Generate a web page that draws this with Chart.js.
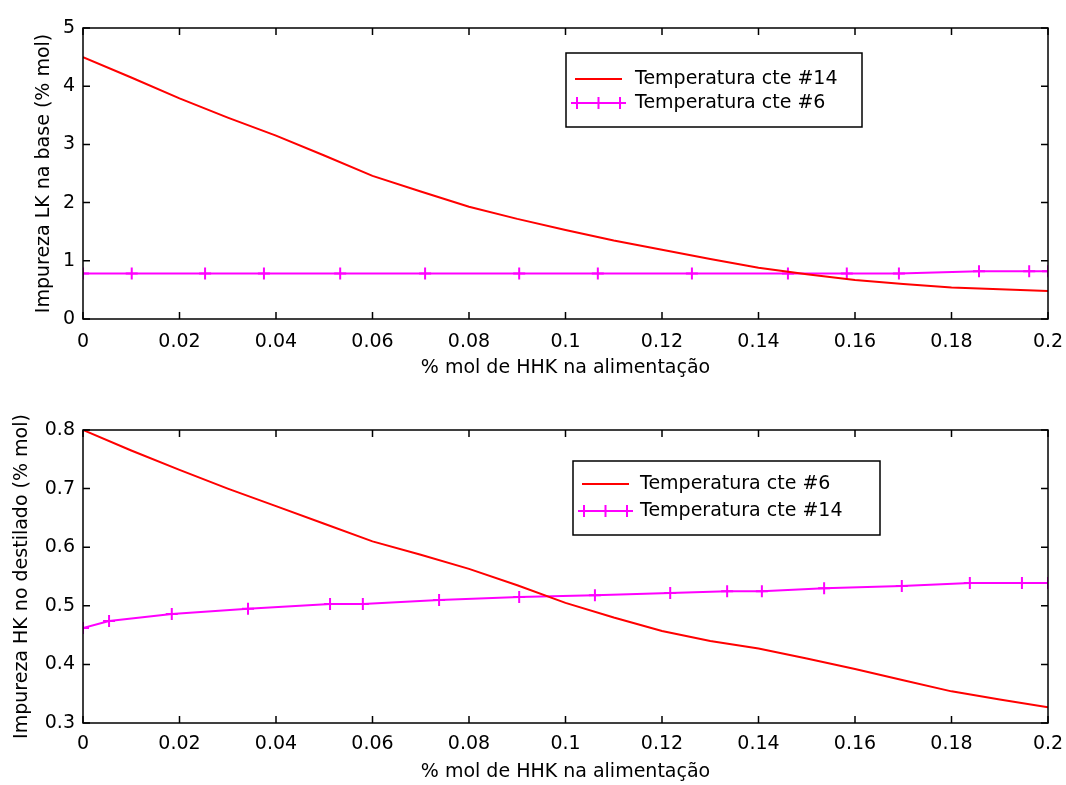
<!DOCTYPE html>
<html>
<head>
<meta charset="utf-8">
<script src="https://cdn.jsdelivr.net/npm/chart.js@4.4.0/dist/chart.umd.min.js"></script>
<style>
  body { margin: 0; background: #fff; width: 1066px; height: 785px; overflow: hidden; }
  canvas { position: absolute; left: 0; }
  #topChart { top: 0; }
  #bottomChart { top: 392px; }
</style>
</head>
<body>
<canvas id="topChart" width="1066" height="392"></canvas>
<canvas id="bottomChart" width="1066" height="393"></canvas>
<script>
// shared x axis
const xTicks = [0, 0.02, 0.04, 0.06, 0.08, 0.1, 0.12, 0.14, 0.16, 0.18, 0.2];
const xTickLabels = ["0", "0.02", "0.04", "0.06", "0.08", "0.1", "0.12", "0.14", "0.16", "0.18", "0.2"];
const xTitle = "% mol de HHK na alimentação";

// top plot - LK impurity in bottoms
const topYTicks = [0, 1, 2, 3, 4, 5];
const topYTickLabels = ["0", "1", "2", "3", "4", "5"];
const topRedX = [0, 0.01, 0.02, 0.03, 0.04, 0.05, 0.06, 0.07, 0.08, 0.09, 0.1, 0.11, 0.12, 0.13, 0.14, 0.15, 0.16, 0.17, 0.18, 0.19, 0.2];
const topRedY = [4.5, 4.15, 3.79, 3.46, 3.15, 2.81, 2.46, 2.19, 1.93, 1.72, 1.53, 1.35, 1.19, 1.03, 0.88, 0.77, 0.67, 0.6, 0.54, 0.51, 0.48];
const topMagX = [0, 0.0101, 0.0253, 0.0375, 0.0533, 0.0709, 0.0904, 0.1067, 0.1262, 0.1461, 0.1583, 0.1691, 0.1857, 0.1961, 0.2];
const topMagY = [0.78, 0.78, 0.78, 0.78, 0.78, 0.78, 0.78, 0.78, 0.78, 0.78, 0.78, 0.78, 0.82, 0.82, 0.82];

// bottom plot - HK impurity in distillate
const botYTicks = [0.3, 0.4, 0.5, 0.6, 0.7, 0.8];
const botYTickLabels = ["0.3", "0.4", "0.5", "0.6", "0.7", "0.8"];
const botRedX = [0, 0.01, 0.02, 0.03, 0.04, 0.05, 0.06, 0.07, 0.08, 0.09, 0.1, 0.11, 0.12, 0.13, 0.14, 0.15, 0.16, 0.17, 0.18, 0.19, 0.2];
const botRedY = [0.8, 0.765, 0.732, 0.7, 0.67, 0.64, 0.61, 0.587, 0.563, 0.535, 0.505, 0.48, 0.457, 0.44, 0.427, 0.41, 0.392, 0.373, 0.354, 0.34, 0.327];
const botMagX = [0, 0.0054, 0.0184, 0.0342, 0.0512, 0.058, 0.0738, 0.0904, 0.1061, 0.1217, 0.1335, 0.1407, 0.1536, 0.1697, 0.1838, 0.1946, 0.2];
const botMagY = [0.462, 0.474, 0.486, 0.495, 0.503, 0.503, 0.51, 0.515, 0.518, 0.522, 0.525, 0.525, 0.53, 0.534, 0.539, 0.539, 0.539];

const RED = "#ff0000";
const MAGENTA = "#ff00ff";
const FONT = "DejaVu Sans";

function pts(xs, ys) {
  return xs.map((x, i) => ({ x: x, y: ys[i] }));
}

// matlab style box with inward ticks + legend inside the axes
const matlabBox = {
  id: "matlabBox",
  afterDraw(chart, args, opts) {
    const ctx = chart.ctx;
    const a = chart.chartArea;
    const xs = chart.scales.x, ys = chart.scales.y;
    ctx.save();
    ctx.strokeStyle = "#000";
    ctx.lineWidth = 1.5;
    ctx.strokeRect(a.left, a.top, a.right - a.left, a.bottom - a.top);
    ctx.beginPath();
    xs.ticks.forEach(t => {
      const px = xs.getPixelForValue(t.value);
      ctx.moveTo(px, a.bottom); ctx.lineTo(px, a.bottom - 7);
      ctx.moveTo(px, a.top); ctx.lineTo(px, a.top + 7);
    });
    ys.ticks.forEach(t => {
      const py = ys.getPixelForValue(t.value);
      ctx.moveTo(a.left, py); ctx.lineTo(a.left + 7, py);
      ctx.moveTo(a.right, py); ctx.lineTo(a.right - 7, py);
    });
    ctx.stroke();

    // legend
    const L = opts.legend;
    ctx.fillStyle = "#fff";
    ctx.fillRect(L.x, L.y, L.w, L.h);
    ctx.strokeStyle = "#000";
    ctx.lineWidth = 1.5;
    ctx.strokeRect(L.x, L.y, L.w, L.h);
    ctx.font = "19px '" + FONT + "'";
    ctx.textBaseline = "middle";
    ctx.textAlign = "left";
    chart.data.datasets.forEach((ds, i) => {
      const y = L.rows[i];
      ctx.strokeStyle = ds.borderColor;
      ctx.lineWidth = 2;
      ctx.beginPath();
      ctx.moveTo(L.lineX0, y); ctx.lineTo(L.lineX1, y);
      ctx.stroke();
      if (ds.pointRadius > 0) {
        [L.lineX0 + 2, (L.lineX0 + L.lineX1) / 2, L.lineX1 - 2].forEach(cx => {
          ctx.beginPath();
          ctx.moveTo(cx, y - 6); ctx.lineTo(cx, y + 6);
          ctx.moveTo(cx - 6, y); ctx.lineTo(cx + 6, y);
          ctx.stroke();
        });
      }
      ctx.fillStyle = "#000";
      ctx.fillText(ds.label, L.textX, y);
    });
    ctx.restore();
  }
};

function makeChart(id, cfg) {
  return new Chart(document.getElementById(id), {
    type: "line",
    data: {
      datasets: [
        {
          label: cfg.redLabel,
          data: pts(cfg.redX, cfg.redY),
          borderColor: RED,
          borderWidth: 2,
          pointRadius: 0,
          tension: 0,
          fill: false,
        },
        {
          label: cfg.magLabel,
          data: pts(cfg.magX, cfg.magY),
          borderColor: MAGENTA,
          borderWidth: 2,
          pointStyle: "cross",
          pointRadius: 6,
          pointBorderWidth: 2,
          pointBorderColor: MAGENTA,
          tension: 0,
          fill: false,
        },
      ],
    },
    options: {
      responsive: false,
      animation: false,
      devicePixelRatio: 1,
      layout: { padding: { left: 0, right: 18, top: cfg.padTop, bottom: 0 } },
      plugins: {
        legend: { display: false },
        tooltip: { enabled: false },
        matlabBox: { legend: cfg.legend },
      },
      scales: {
        x: {
          type: "linear",
          min: 0,
          max: 0.2,
          grid: { display: false, drawTicks: false },
          border: { display: false },
          afterBuildTicks: s => { s.ticks = xTicks.map(v => ({ value: v })); },
          afterFit: s => { s.height = cfg.xHeight; s.paddingLeft = 0; s.paddingRight = 0; },
          ticks: {
            color: "#000",
            padding: cfg.xTickPad,
            maxRotation: 0,
            autoSkip: false,
            font: { family: FONT, size: 19 },
            callback: (v, i) => xTickLabels[i],
          },
          title: {
            display: true,
            text: xTitle,
            color: "#000",
            font: { family: FONT, size: 19 },
            padding: { top: 0, bottom: cfg.xTitlePad },
          },
        },
        y: {
          min: cfg.yTicks[0],
          max: cfg.yTicks[cfg.yTicks.length - 1],
          grid: { display: false, drawTicks: false },
          border: { display: false },
          afterBuildTicks: s => { s.ticks = cfg.yTicks.map(v => ({ value: v })); },
          afterFit: s => { s.width = 83; s.paddingTop = 0; s.paddingBottom = 0; },
          ticks: {
            color: "#000",
            padding: 8,
            autoSkip: false,
            font: { family: FONT, size: 19 },
            callback: (v, i) => cfg.yLabels[i],
          },
          title: {
            display: true,
            text: cfg.yTitle,
            color: "#000",
            font: { family: FONT, size: 19 },
            padding: { top: cfg.yTitlePad, bottom: 0 },
          },
        },
      },
    },
    plugins: [matlabBox],
  });
}

makeChart("topChart", {
  redLabel: "Temperatura cte #14",
  magLabel: "Temperatura cte #6",
  redX: topRedX, redY: topRedY,
  magX: topMagX, magY: topMagY,
  yTicks: topYTicks, yLabels: topYTickLabels,
  yTitle: "Impureza LK na base (% mol)",
  padTop: 28, xHeight: 73, xTickPad: 12, xTitlePad: 13, yTitlePad: 33,
  legend: { x: 566, y: 53, w: 296, h: 74, rows: [79, 103], lineX0: 575, lineX1: 622, textX: 635 },
});

makeChart("bottomChart", {
  redLabel: "Temperatura cte #6",
  magLabel: "Temperatura cte #14",
  redX: botRedX, redY: botRedY,
  magX: botMagX, magY: botMagY,
  yTicks: botYTicks, yLabels: botYTickLabels,
  yTitle: "Impureza HK no destilado (% mol)",
  padTop: 38, xHeight: 62, xTickPad: 10, xTitlePad: 2, yTitlePad: 11,
  legend: { x: 573, y: 69, w: 307, h: 74, rows: [92, 119], lineX0: 582, lineX1: 629, textX: 640 },
});
</script>
</body>
</html>
